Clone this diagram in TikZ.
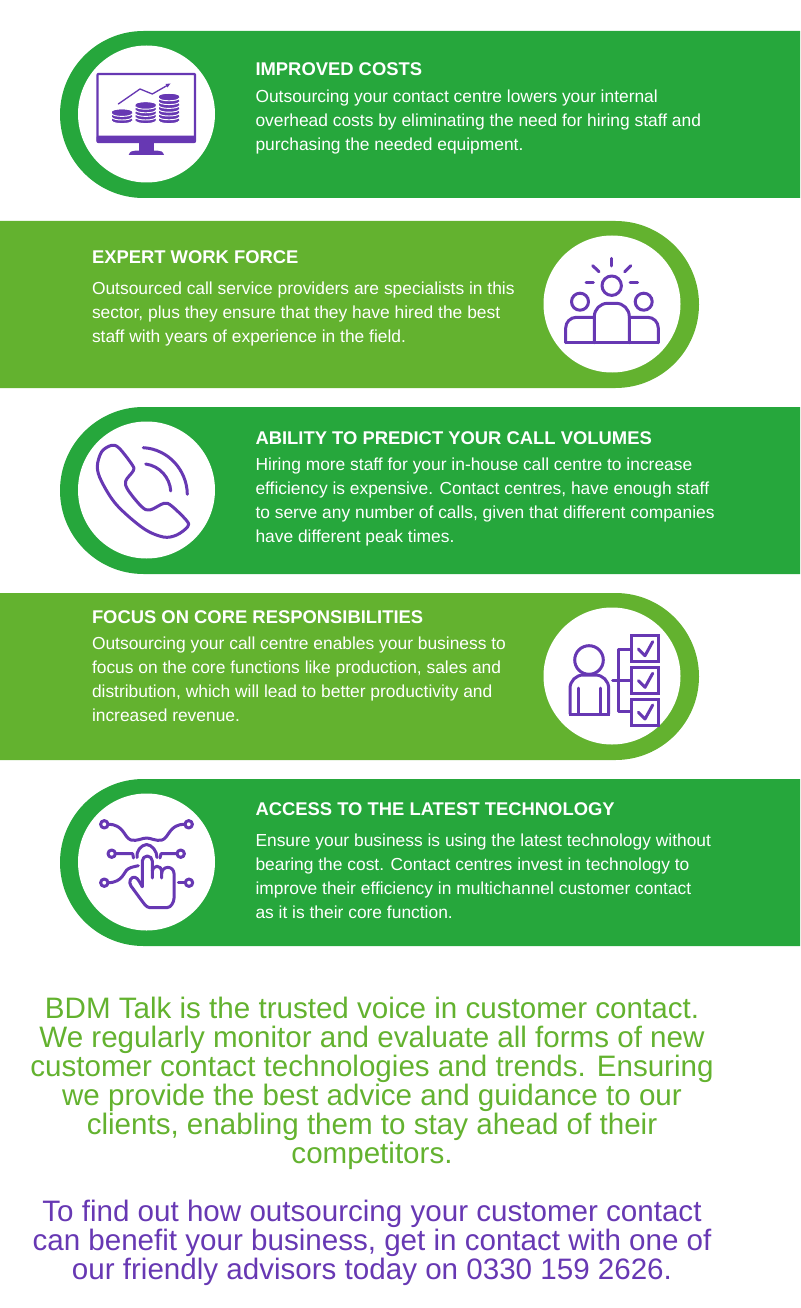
\documentclass[tikz,border=0pt]{standalone}
\usepackage{fontspec}
\setmainfont{Liberation Sans}
\definecolor{darkband}{RGB}{38,167,60}
\definecolor{lightband}{RGB}{99,178,47}
\definecolor{iconpurple}{RGB}{103,56,179}
\tikzset{
  every picture/.style={line width=0.75pt},
  bandtitle/.style={anchor=north west,inner sep=0pt,text=white,font=\fontsize{13.8}{18}\selectfont\bfseries},
  bandbody/.style={anchor=north west,inner sep=0pt,text=white,align=left,font=\fontsize{13.05}{18}\selectfont},
  closing/.style={anchor=north,inner sep=0pt,align=center,font=\fontsize{22.18}{21.75}\selectfont},
  iconline/.style={draw=iconpurple,line width=2.25pt,line cap=round,line join=round},
  coin/.style={fill=iconpurple,draw=none},
}
\begin{document}
\begin{tikzpicture}[x=0.75pt,y=0.75pt,yscale=-1]
	\useasboundingbox (0,0) rectangle (800,1308);

	%Bands
	\fill [darkband] (800,31) -- (143.5,31) arc (270:90:83.5) -- (800,198) -- cycle ;
	\fill [lightband] (0,221) -- (615.5,221) arc (-90:90:83.5) -- (0,388) -- cycle ;
	\fill [darkband] (800,407) -- (143.5,407) arc (270:90:83.5) -- (800,574) -- cycle ;
	\fill [lightband] (0,593) -- (615.5,593) arc (-90:90:83.5) -- (0,760) -- cycle ;
	\fill [darkband] (800,779) -- (143.5,779) arc (270:90:83.5) -- (800,946) -- cycle ;

	%White discs
	\fill [white] (146.5,114) circle (68.5) ;
	\fill [white] (612,304) circle (68.5) ;
	\fill [white] (146.5,490) circle (68.5) ;
	\fill [white] (612,676) circle (68.5) ;
	\fill [white] (146.5,862) circle (68.5) ;

	%Monitor icon
	\draw [iconline,line width=1.6pt,rounded corners=0.5pt] (97.5,74) rectangle (195,142) ;
	\fill [iconpurple,rounded corners=1pt] (96.7,135.7) rectangle (195.7,142.7) ;
	\fill [iconpurple] (138.7,142) rectangle (154,151) ;
	\fill [iconpurple] (128.7,155) .. controls (130,151.5) and (132,150.7) .. (135,150.7) -- (158,150.7) .. controls (161,150.7) and (163,151.5) .. (164,155) -- cycle ;
	\draw [iconline,line width=1pt] (118.3,104) -- (140,89) -- (152.3,94) -- (168,85) ;
	\fill [iconpurple] (170.5,83.5) -- (165.5,84) -- (167.5,87.5) -- cycle ;
	\foreach \cx/\ctop/\clayers/\cstep in {122/112.2/3/3.6,145.7/105/5/3.6,169/96.6/7/3.8}{
		\foreach \l in {1,...,\clayers}{
			\fill [coin] (\cx-10,\ctop+\l*\cstep-\cstep) arc (180:360:10 and 2.6) -- ++(0,1.5) arc (0:180:10 and 2.6) -- cycle ;
			\fill [coin] (\cx,\ctop+\l*\cstep-\cstep) ellipse (10 and 2.6) ;
		}
		\foreach \l in {1,...,\clayers}{
			\draw [white,line width=0.7pt] (\cx-10,\ctop+\l*\cstep-\cstep+1.6) arc (180:90:10 and 2.6) arc (90:0:10 and 2.6) ;
		}
	}

	%Team icon
	\draw [iconline] (611.7,285.7) circle (9.7) ;
	\draw [iconline] (580,301.7) circle (8.5) ;
	\draw [iconline] (643.7,301.7) circle (8.5) ;
	\draw [iconline] (611.7,258.3) -- (611.7,266) ;
	\draw [iconline] (592.7,265.7) -- (599,271.7) ;
	\draw [iconline] (630.7,265.7) -- (624.7,271.7) ;
	\draw [iconline] (586,282.7) -- (593.3,282.7) ;
	\draw [iconline] (630,282.7) -- (637.7,282.7) ;
	\draw [iconline,rounded corners=10pt] (594.3,342.7) -- (594.3,303.3) -- (629.3,303.3) -- (629.3,342.7) ;
	\draw [iconline,rounded corners=8pt] (594.3,317.3) -- (565.7,317.3) -- (565.7,342.7) ;
	\draw [iconline,rounded corners=8pt] (629.3,317.3) -- (658.3,317.3) -- (658.3,342.7) ;
	\draw [iconline] (565.7,342.7) -- (658.3,342.7) ;

	%Phone icon
	\draw [iconline] plot [smooth cycle,tension=0.55] coordinates {(111.7,445.3) (119.3,448.3) (132.3,465) (133.3,470.7) (125.7,481) (128,490) (141.7,506.7) (150,510) (164,503.3) (171.7,506) (186.7,520.7) (187.7,526.7) (176.7,535) (163.3,537) (143.3,528.3) (116.7,505) (101.7,481.7) (97.3,466.7) (101.7,451.7)} ;
	\draw [iconline] (143.3,447.7) .. controls (168,449) and (187,470) .. (187.3,494.3) ;
	\draw [iconline] (145.7,464) .. controls (160,466) and (170,478) .. (170.7,491) ;

	%Person and checklist icon
	\draw [iconline] (589,660) circle (14.3) ;
	\draw [iconline,rounded corners=10pt,line join=miter] (570,714) -- (570,675) -- (608.7,675) -- (608.7,714) ;
	\draw [iconline,line cap=butt] (569,714) -- (609.7,714) ;
	\draw [iconline] (578.3,688) -- (578.3,714) ;
	\draw [iconline] (600,688) -- (600,714) ;
	\draw [iconline] (612.7,680) -- (631.7,680) ;
	\draw [iconline,line cap=butt] (631.7,649) -- (618.7,649) -- (618.7,711.7) -- (631.7,711.7) ;
	\foreach \boxtop in {0,31.6,63.3}{
		\draw [iconline,line join=miter] (631.7,635.7+\boxtop) rectangle (658.3,661.7+\boxtop) ;
		\draw [iconline] (638.3,649+\boxtop) -- (645,655.7+\boxtop) -- (652.7,641.7+\boxtop) ;
	}

	%Touch icon
	\draw [iconline] (104.3,824.3) circle (3.7) ;
	\draw [iconline] (188.7,824.3) circle (3.7) ;
	\draw [iconline] (111.7,853.7) circle (3.7) ;
	\draw [iconline] (180.7,853.7) circle (3.7) ;
	\draw [iconline] (104.3,882.7) circle (3.7) ;
	\draw [iconline] (189,882.7) circle (3.7) ;
	\draw [iconline] (108,824.3) .. controls (124,824) and (124,838) .. (131,840) .. controls (137,841.5) and (142,838) .. (146.7,838) .. controls (151,838) and (156,841.5) .. (162,840) .. controls (169,838) and (169,824) .. (185,824.3) ;
	\draw [iconline] (115.4,853.7) -- (132.7,853.7) -- (133.5,858) ;
	\draw [iconline] (177,853.7) -- (161,853.7) -- (160,858) ;
	\draw [iconline] (108,882.7) .. controls (123,882.7) and (124,871) .. (128,869) .. controls (131,867) and (135,866.5) .. (138.3,865.7) ;
	\draw [iconline] (178.3,882.7) -- (185.3,882.7) ;
	\draw [iconline] (137,857.5) .. controls (136,851) and (141,845) .. (146.7,844.5) .. controls (152,845) and (157,851) .. (157,857.5) ;
	\draw [iconline] (142.3,886.7) -- (142.3,861) arc (180:360:5) -- (152.3,878) ;
	\draw [iconline] (152.3,871) arc (180:360:4.7) -- (161.7,878) ;
	\draw [iconline] (161.7,873.5) arc (180:360:6.15) -- (174,898.3) .. controls (174,902) and (171,907.7) .. (166.7,907.7) -- (150,907.7) .. controls (146,907.7) and (143,902) .. (140,898.3) -- (131,886) .. controls (128,882) and (131,876) .. (135,877.3) .. controls (138,878) and (140,883) .. (142.3,886.7) ;

	% Text Node
	\node [bandtitle] (costtitle) at (255,62.5) {IMPROVED COSTS};
	\node [bandbody] (costbody) at (255,89.5) {Outsourcing your contact centre lowers your internal\\overhead costs by eliminating the need for hiring staff and\\purchasing the needed equipment.};
	% Text Node
	\node [bandtitle] (experttitle) at (91.5,250.5) {EXPERT WORK FORCE};
	\node [bandbody] (expertbody) at (91.5,281.5) {Outsourced call service providers are specialists in this\\sector, plus they ensure that they have hired the best\\staff with years of experience in the field.};
	% Text Node
	\node [bandtitle] (abilitytitle) at (255,431.5) {ABILITY TO PREDICT YOUR CALL VOLUMES};
	\node [bandbody] (abilitybody) at (255,457.5) {Hiring more staff for your in-house call centre to increase\\efficiency is expensive. Contact centres, have enough staff\\to serve any number of calls, given that different companies\\have different peak times.};
	% Text Node
	\node [bandtitle] (focustitle) at (91.5,610.5) {FOCUS ON CORE RESPONSIBILITIES};
	\node [bandbody] (focusbody) at (91.5,636.5) {Outsourcing your call centre enables your business to\\focus on the core functions like production, sales and\\distribution, which will lead to better productivity and\\increased revenue.};
	% Text Node
	\node [bandtitle] (accesstitle) at (255,802.5) {ACCESS TO THE LATEST TECHNOLOGY};
	\node [bandbody] (accessbody) at (255,833.5) {Ensure your business is using the latest technology without\\bearing the cost. Contact centres invest in technology to\\improve their efficiency in multichannel customer contact\\as it is their core function.};
	% Text Node
	\node [closing,text=lightband] (talkblock) at (372,997) {BDM Talk is the trusted voice in customer contact.\\We regularly monitor and evaluate all forms of new\\customer contact technologies and trends. Ensuring\\we provide the best advice and guidance to our\\clients, enabling them to stay ahead of their\\competitors.};
	% Text Node
	\node [closing,text=iconpurple] (callblock) at (372,1200) {To find out how outsourcing your customer contact\\can benefit your business, get in contact with one of\\our friendly advisors today on 0330 159 2626.};
\end{tikzpicture}
\end{document}
